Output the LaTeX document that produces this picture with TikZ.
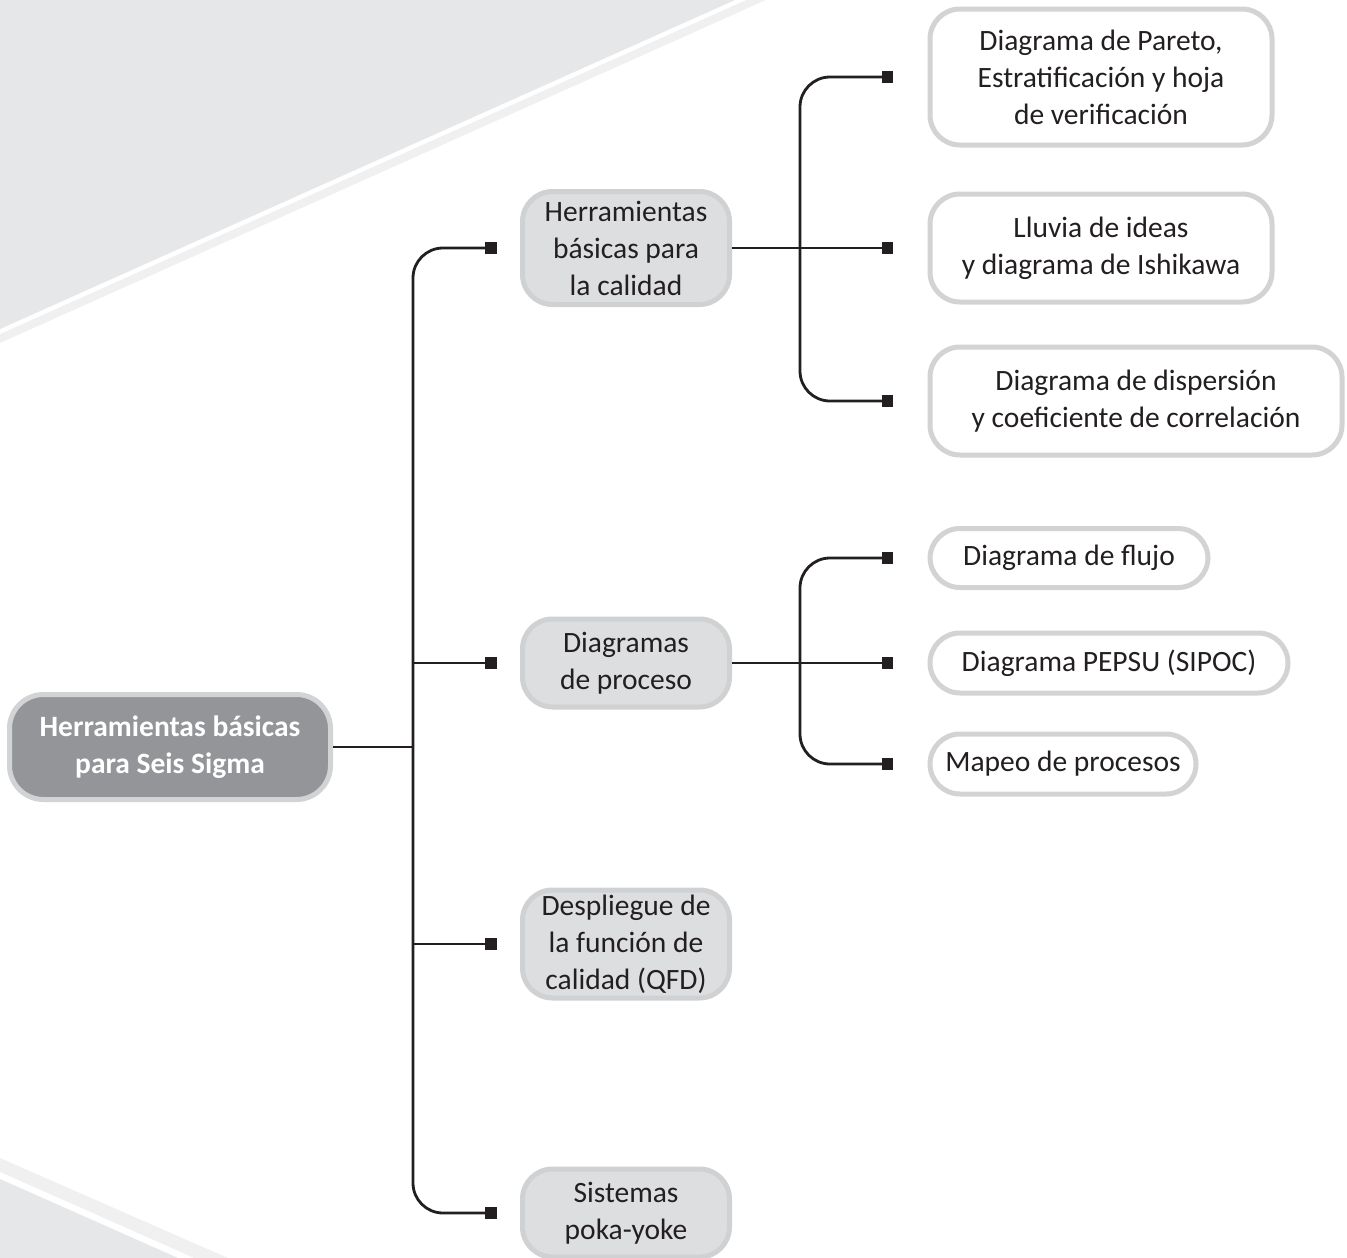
\documentclass[tikz,border=0pt]{standalone}
\usepackage{fontspec}
\setmainfont{Carlito}
\usepackage{tikz}
\usetikzlibrary{arrows.meta,calc,positioning}
\definecolor{myink}{HTML}{231F20}
\definecolor{mybg}{HTML}{E6E7E8}
\definecolor{myshade}{HTML}{F0F0F1}
\definecolor{myrim}{HTML}{D1D3D4}
\definecolor{mymidrim}{HTML}{CFD1D2}
\definecolor{mymidfill}{HTML}{DDDEDF}
\definecolor{myrootfill}{HTML}{939598}
\newcommand{\mytext}{\fontsize{29.5}{37}\selectfont}
\tikzset{
    mytip/.tip={Square[length=11.5pt,width=11.5pt]},
    myroot/.style={draw=myrim,fill=myrootfill,line width=5pt,rounded corners=34pt,
        minimum width=321pt,minimum height=105pt,align=center,text=white,font=\mytext\bfseries},
    mymid/.style={draw=mymidrim,fill=mymidfill,line width=5pt,rounded corners=30pt,
        minimum width=207pt,inner ysep=2pt,align=center,text=myink,font=\mytext},
    myleaf/.style={draw=myrim,fill=white,line width=5pt,rounded corners=30pt,
        anchor=west,inner xsep=0pt,inner ysep=4pt,align=center,text=myink,font=\mytext},
    mylink/.style={line width=2.8pt,draw=myink}
}
\begin{document}
\begin{tikzpicture}[x=1pt,y=-1pt]
  \useasboundingbox (0,0) rectangle (1347,1258);
  % background corners
  \fill[myshade] (0,0) -- (766,0) -- (0,343) -- cycle;
  \fill[white] (0,0) -- (746,0) -- (0,334) -- cycle;
  \fill[mybg] (0,0) -- (735,0) -- (0,329) -- cycle;
  \fill[myshade] (0,1158) -- (228,1258) -- (0,1258) -- cycle;
  \fill[white] (0,1172) -- (194,1258) -- (0,1258) -- cycle;
  \fill[mybg] (0,1179) -- (178,1258) -- (0,1258) -- cycle;

  \node[myroot] (root) at (170,747) {Herramientas básicas\\para Seis Sigma};

  \node[mymid,minimum height=113pt] (calidad) at (626,248) {Herramientas\\básicas para\\la calidad};
  \node[mymid,minimum height=88pt] (proceso) at (626,663) {Diagramas\\de proceso};
  \node[mymid,minimum height=108pt] (qfd) at (626,944) {Despliegue de\\la función de\\calidad (QFD)};
  \node[mymid,minimum height=88pt] (poka) at (626,1213) {Sistemas\\poka-yoke};

  \node[myleaf,minimum width=342pt,minimum height=136pt] (pareto) at (927.5,77) {Diagrama de Pareto,\\Estratificación y hoja\\de verificación};
  \node[myleaf,minimum width=342pt,minimum height=108pt] (lluvia) at (927.5,248) {Lluvia de ideas\\y diagrama de Ishikawa};
  \node[myleaf,minimum width=412pt,minimum height=108pt] (disp) at (927.5,401) {Diagrama de dispersión\\y coeficiente de correlación};
  \node[myleaf,minimum width=278pt,minimum height=59pt] (flujo) at (927.5,558) {Diagrama de flujo};
  \node[myleaf,minimum width=358pt,minimum height=60pt] (pepsu) at (927.5,663) {Diagrama PEPSU (SIPOC)};
  \node[myleaf,minimum width=266pt,minimum height=60pt] (mapeo) at (927.5,764) {Mapeo de procesos};

  \coordinate (trunk) at (413,0);
  \coordinate (fork) at (800,0);

  % first level
  \draw[mylink] (root.east) -- (root.east -| trunk);
  \draw[mylink,rounded corners=30pt,{mytip}-{mytip},shorten <=23.5pt,shorten >=23.5pt]
    (calidad.west) -- (calidad.west -| trunk) -- (poka.west -| trunk) -- (poka.west);
  \draw[mylink,-{mytip},shorten >=23.5pt] (proceso.west -| trunk) -- (proceso.west);
  \draw[mylink,-{mytip},shorten >=23.5pt] (qfd.west -| trunk) -- (qfd.west);

  % second level
  \draw[mylink,-{mytip},shorten >=34.5pt] (calidad.east) -- (lluvia.west);
  \draw[mylink,rounded corners=30pt,{mytip}-{mytip},shorten <=34.5pt,shorten >=34.5pt]
    (pareto.west) -- (pareto.west -| fork) -- (disp.west -| fork) -- (disp.west);
  \draw[mylink,-{mytip},shorten >=34.5pt] (proceso.east) -- (pepsu.west);
  \draw[mylink,rounded corners=30pt,{mytip}-{mytip},shorten <=34.5pt,shorten >=34.5pt]
    (flujo.west) -- (flujo.west -| fork) -- (mapeo.west -| fork) -- (mapeo.west);
\end{tikzpicture}
\end{document}
